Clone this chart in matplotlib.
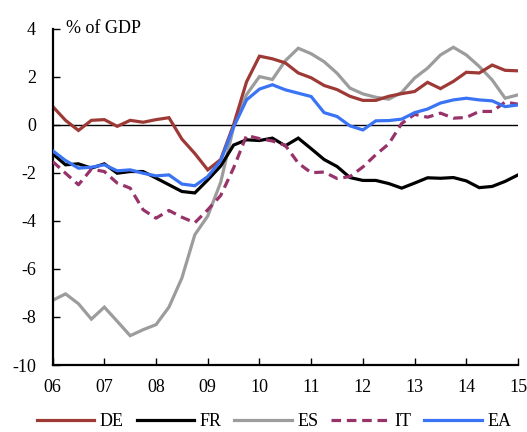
import matplotlib
matplotlib.use("Agg")
import matplotlib.pyplot as plt
import numpy as np

plt.rcParams['font.family'] = ['Liberation Serif', 'DejaVu Serif']
plt.rcParams['axes.unicode_minus'] = False

# quarterly, 2006Q1 .. 2015Q1
start_year = 2006
n_quarters = 37
quarters = start_year + np.arange(n_quarters) * 0.25

DE = [0.76, 0.18, -0.24, 0.18, 0.21, -0.07, 0.18, 0.10, 0.21, 0.29, -0.60, -1.20, -1.88,
      -1.45, 0.00, 1.78, 2.85, 2.74, 2.57, 2.15, 1.95, 1.63, 1.46, 1.18, 1.01, 1.01, 1.18,
      1.29, 1.38, 1.76, 1.50, 1.80, 2.18, 2.15, 2.48, 2.26, 2.24]
FR = [-1.21, -1.67, -1.63, -1.81, -1.63, -2.02, -1.95, -1.95, -2.22, -2.50, -2.78, -2.84,
      -2.30, -1.72, -0.85, -0.63, -0.66, -0.56, -0.88, -0.56, -1.00, -1.45, -1.74, -2.20,
      -2.32, -2.32, -2.45, -2.64, -2.43, -2.21, -2.23, -2.20, -2.34, -2.62, -2.57, -2.36, -2.09]
ES = [-7.31, -7.04, -7.45, -8.09, -7.59, -8.18, -8.78, -8.53, -8.32, -7.59, -6.38, -4.58,
      -3.80, -2.40, -0.10, 1.25, 2.00, 1.88, 2.66, 3.18, 2.95, 2.62, 2.14, 1.52, 1.28, 1.14,
      1.06, 1.34, 1.94, 2.35, 2.90, 3.22, 2.90, 2.42, 1.86, 1.10, 1.24]
IT = [-1.53, -2.02, -2.50, -1.85, -1.95, -2.43, -2.64, -3.54, -3.89, -3.57, -3.85, -4.08,
      -3.54, -2.95, -1.80, -0.45, -0.58, -0.68, -0.86, -1.60, -2.00, -1.97, -2.24, -2.16,
      -1.76, -1.25, -0.80, 0.05, 0.43, 0.31, 0.48, 0.27, 0.30, 0.55, 0.55, 0.94, 0.85]
EA = [-1.08, -1.49, -1.81, -1.77, -1.67, -1.92, -1.88, -2.02, -2.13, -2.09, -2.47, -2.54,
      -2.16, -1.50, -0.10, 1.03, 1.48, 1.66, 1.45, 1.31, 1.17, 0.50, 0.34, -0.05, -0.22,
      0.16, 0.17, 0.23, 0.50, 0.65, 0.90, 1.03, 1.10, 1.03, 0.99, 0.75, 0.82]

series_names = ['DE', 'FR', 'ES', 'IT', 'EA']
x_tick_labels = ['06', '07', '08', '09', '10', '11', '12', '13', '14', '15']
y_ticks = [-10, -8, -6, -4, -2, 0, 2, 4]
unit_label = '% of GDP'

fig = plt.figure(figsize=(5.27, 4.32), dpi=100)
ax = fig.add_axes([0.0998, 0.155, 0.8832, 0.779])

styles = {
    'DE': dict(color='#9E3A36', lw=2.3, ls='-'),
    'FR': dict(color='#000000', lw=2.3, ls='-'),
    'ES': dict(color='#9C9C9C', lw=2.3, ls='-'),
    'IT': dict(color='#98336A', lw=2.3, ls=(0, (3, 1.8))),
    'EA': dict(color='#3A74F5', lw=2.3, ls='-'),
}
data = {'DE': DE, 'FR': FR, 'ES': ES, 'IT': IT, 'EA': EA}
z = {'DE': 2, 'FR': 3, 'ES': 1, 'IT': 4, 'EA': 5}
for name in series_names:
    st = styles[name]
    ax.plot(quarters, data[name], color=st['color'], lw=st['lw'], ls=st['ls'],
            label=name, zorder=z[name], solid_joinstyle='miter')

ax.axhline(0, color='black', lw=1.0, zorder=0.5)

ax.set_xlim(2006, 2015)
ax.set_ylim(-10, 4)
ax.set_xticks(np.arange(2006, 2016))
ax.set_xticklabels(x_tick_labels)
ax.set_yticks(y_ticks)
ax.set_yticklabels([str(v) for v in y_ticks])
ax.tick_params(direction='in', length=5, width=1.0, labelsize=13, colors='black')
ax.tick_params(axis='y', pad=12)
ax.tick_params(axis='x', pad=10)

for s in ['top', 'right']:
    ax.spines[s].set_visible(False)
for s in ['left', 'bottom']:
    ax.spines[s].set_linewidth(1.6)

ax.text(0.028, 1.0, unit_label, transform=ax.transAxes, fontsize=13,
        ha='left', va='center')

fig.legend(loc='center', bbox_to_anchor=(0.52, 0.024), ncol=5, frameon=False,
           fontsize=13, handlelength=3.2, handletextpad=0.3, columnspacing=0.7,
           borderpad=0.1)

fig.savefig('out.png', dpi=100)
